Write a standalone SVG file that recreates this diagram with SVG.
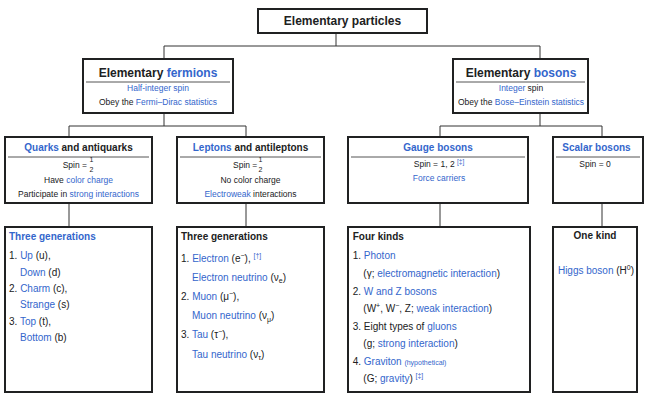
<svg xmlns="http://www.w3.org/2000/svg" width="651" height="407" viewBox="0 0 651 407">
<style>
.box{fill:#fff;stroke:#202122;stroke-width:2}
.sep{stroke:#555;stroke-width:1}
.con{stroke:#333;stroke-width:1;fill:none}
text{font-family:"Liberation Sans",Arial,sans-serif;fill:#202122}
.h1{font-size:12px;font-weight:bold}
.h2{font-size:10px;font-weight:bold}
.s{font-size:8.5px}
.m{font-size:10px}
.b{fill:#3366cc}
.c{text-anchor:middle}
.sup{font-size:7px}
</style>
<rect width="651" height="407" fill="#fff"/>
<g id="connectors">
<path class="con" d="M336 33V46M164 46H540M164 46V59M540 46V59"/>
<path class="con" d="M164 113V126M69 126H246M69 126V137M246 126V137"/>
<path class="con" d="M540 113V126M440 126H602M440 126V137M602 126V137"/>
<path class="con" d="M69 203V227M246 203V227M440 203V227M602 203V227"/>
</g>
<g id="root">
<rect class="box" x="258" y="9" width="169" height="24"/>
<text class="h1 c" x="342.5" y="25">Elementary particles</text>
</g>
<g id="fermions">
<rect class="box" x="83" y="59" width="150" height="54"/>
<text class="h1 c" x="158" y="76.5">Elementary <tspan class="b">fermions</tspan></text>
<line class="sep" x1="86" y1="82" x2="230" y2="82"/>
<text class="s c b" x="158" y="91">Half-integer spin</text>
<text class="s c" x="158" y="104.5">Obey the <tspan class="b">Fermi–Dirac statistics</tspan></text>
</g>
<g id="bosons">
<rect class="box" x="453" y="59" width="135" height="54"/>
<text class="h1 c" x="521" y="76.5">Elementary <tspan class="b">bosons</tspan></text>
<line class="sep" x1="456" y1="82" x2="585" y2="82"/>
<text class="s c" x="521" y="91"><tspan class="b">Integer</tspan> spin</text>
<text class="s c" x="521" y="104.5">Obey the <tspan class="b">Bose–Einstein statistics</tspan></text>
</g>
<g id="quarks">
<rect class="box" x="5" y="137" width="147" height="66"/>
<text class="h2 c" x="78.5" y="151"><tspan class="b">Quarks</tspan> and antiquarks</text>
<line class="sep" x1="8" y1="157" x2="149" y2="157"/>
<text class="s" x="62.7" y="167.5">Spin =</text>
<text class="sup c" x="91.5" y="162">1</text>
<text class="sup c" x="91.5" y="171.5">2</text>
<text class="s c" x="78.5" y="183">Have <tspan class="b">color charge</tspan></text>
<text class="s c" x="78.5" y="196.5">Participate in <tspan class="b">strong interactions</tspan></text>
</g>
<g id="leptons">
<rect class="box" x="177" y="137" width="147" height="66"/>
<text class="h2 c" x="250.5" y="151"><tspan class="b">Leptons</tspan> and antileptons</text>
<line class="sep" x1="180" y1="157" x2="321" y2="157"/>
<text class="s" x="233" y="167.5">Spin =</text>
<text class="sup c" x="260.5" y="162">1</text>
<text class="sup c" x="260.5" y="171.5">2</text>
<text class="s c" x="250.5" y="183">No color charge</text>
<text class="s c" x="250.5" y="196.5"><tspan class="b">Electroweak</tspan> interactions</text>
</g>
<g id="gauge">
<rect class="box" x="348" y="137" width="180" height="66"/>
<text class="h2 c b" x="438" y="151">Gauge bosons</text>
<line class="sep" x1="351" y1="157" x2="525" y2="157"/>
<text class="s c" x="439" y="167">Spin = 1, 2 <tspan class="b" font-size="6.5" dy="-3">[‡]</tspan></text>
<text class="s c b" x="439" y="181">Force carriers</text>
</g>
<g id="scalar">
<rect class="box" x="553" y="137" width="90" height="66"/>
<text class="h2 c b" x="596.5" y="151">Scalar bosons</text>
<line class="sep" x1="556" y1="157" x2="640" y2="157"/>
<text class="s c" x="595" y="167">Spin = 0</text>
</g>
<g id="quarks-list">
<rect class="box" x="5" y="227" width="147" height="165"/>
<text class="h2 b" x="9" y="240">Three generations</text>
<text class="m" x="9" y="259">1. <tspan class="b">Up</tspan> (u),</text>
<text class="m" x="20" y="275.5"><tspan class="b">Down</tspan> (d)</text>
<text class="m" x="9" y="291.5">2. <tspan class="b">Charm</tspan> (c),</text>
<text class="m" x="20" y="308"><tspan class="b">Strange</tspan> (s)</text>
<text class="m" x="9" y="324.5">3. <tspan class="b">Top</tspan> (t),</text>
<text class="m" x="20" y="341"><tspan class="b">Bottom</tspan> (b)</text>
</g>
<g id="leptons-list">
<rect class="box" x="177" y="227" width="147" height="165"/>
<text class="h2" x="181" y="240">Three generations</text>
<text class="m" x="181" y="261.5">1. <tspan class="b">Electron</tspan> (e<tspan class="sup" dy="-4">−</tspan><tspan dy="4">), </tspan><tspan class="b sup" dy="-4">[†]</tspan></text>
<text class="m" x="192" y="280.5"><tspan class="b">Electron neutrino</tspan> (ν<tspan class="sup" dy="2.5">e</tspan><tspan dy="-2.5">)</tspan></text>
<text class="m" x="181" y="300">2. <tspan class="b">Muon</tspan> (μ<tspan class="sup" dy="-4">−</tspan><tspan dy="4">),</tspan></text>
<text class="m" x="192" y="319.3"><tspan class="b">Muon neutrino</tspan> (ν<tspan class="sup" dy="2.5">μ</tspan><tspan dy="-2.5">)</tspan></text>
<text class="m" x="181" y="338.3">3. <tspan class="b">Tau</tspan> (τ<tspan class="sup" dy="-4">−</tspan><tspan dy="4">),</tspan></text>
<text class="m" x="192" y="357.7"><tspan class="b">Tau neutrino</tspan> (ν<tspan class="sup" dy="2.5">τ</tspan><tspan dy="-2.5">)</tspan></text>
</g>
<g id="gauge-list">
<rect class="box" x="348" y="227" width="182" height="165"/>
<text class="h2" x="352.7" y="240">Four kinds</text>
<text class="m" x="352.7" y="259">1. <tspan class="b">Photon</tspan></text>
<text class="m" x="363.3" y="277">(γ; <tspan class="b">electromagnetic interaction</tspan>)</text>
<text class="m" x="352.7" y="294.5">2. <tspan class="b">W and Z bosons</tspan></text>
<text class="m" x="363.3" y="312">(W<tspan class="sup" dy="-4">+</tspan><tspan dy="4">, W</tspan><tspan class="sup" dy="-4">−</tspan><tspan dy="4">, Z; </tspan><tspan class="b">weak interaction</tspan>)</text>
<text class="m" x="352.7" y="329.5">3. Eight types of <tspan class="b">gluons</tspan></text>
<text class="m" x="363.3" y="347">(g; <tspan class="b">strong interaction</tspan>)</text>
<text class="m" x="352.7" y="364.5">4. <tspan class="b">Graviton</tspan> <tspan class="b sup">(hypothetical)</tspan></text>
<text class="m" x="363.3" y="381.5">(G; <tspan class="b">gravity</tspan>) <tspan class="b sup" dy="-4">[‡]</tspan></text>
</g>
<g id="scalar-list">
<rect class="box" x="553" y="227" width="84" height="165"/>
<text class="h2 c" x="595" y="239">One kind</text>
<text class="m c" x="596" y="274"><tspan class="b">Higgs boson</tspan> (H<tspan class="sup" dy="-4">0</tspan><tspan dy="4">)</tspan></text>
</g>
</svg>
